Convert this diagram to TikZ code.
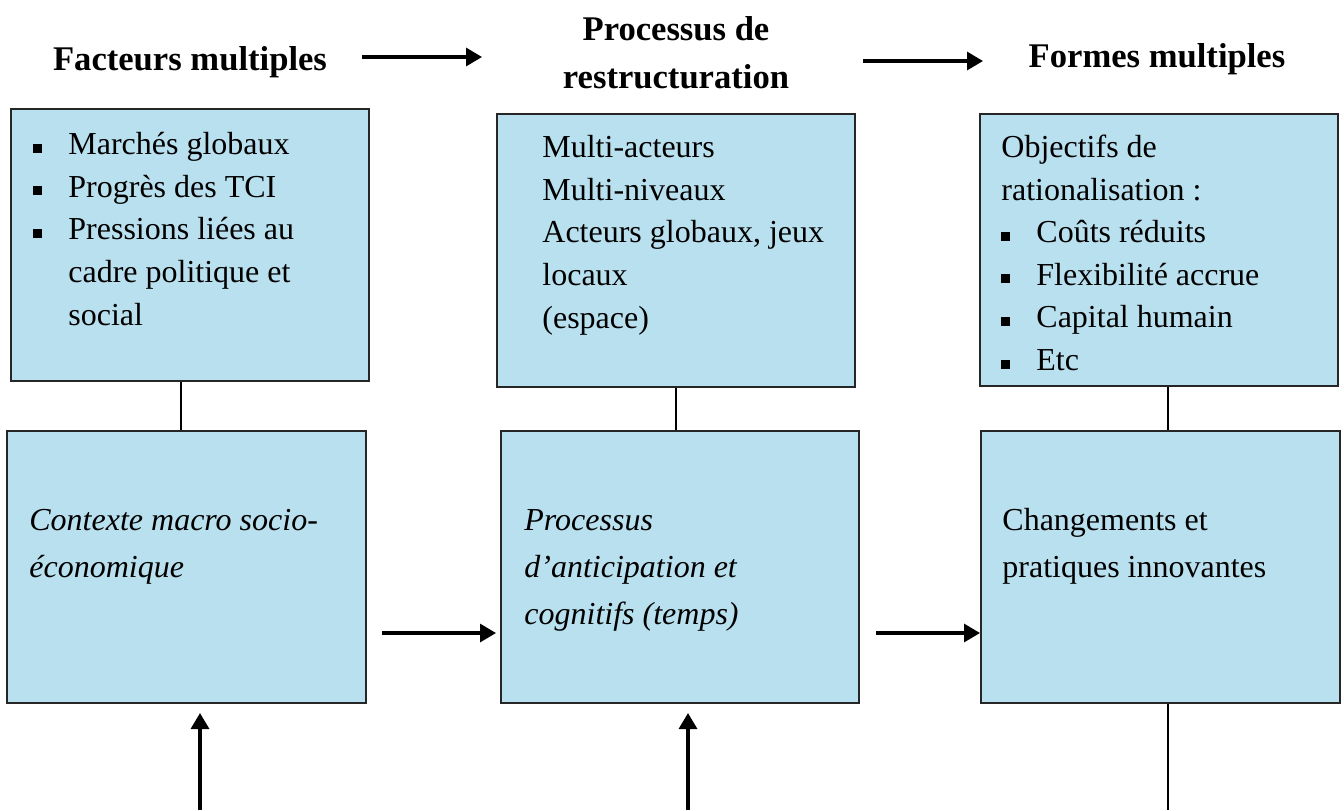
\documentclass[tikz,border=0pt]{standalone}
\usepackage{fontspec}
\setmainfont{Liberation Serif}
\usetikzlibrary{arrows.meta}
\definecolor{boxblue}{RGB}{185,224,238}
\newcommand{\sqb}{\makebox[17.5pt][l]{\rule[1pt]{4.5pt}{4.5pt}}}
\newcommand{\ind}{\hspace*{17.5pt}}
\tikzset{
  box/.style={draw=black!85, line width=1pt, fill=boxblue, inner sep=0pt,
    minimum width=179pt, minimum height=136pt},
  txt/.style={anchor=base west, align=left, inner sep=0pt,
    font=\fontsize{16}{21.3}\selectfont},
  txtb/.style={txt, font=\fontsize{16}{23.5}\selectfont},
  ttl/.style={anchor=base, align=center, inner sep=0pt,
    font=\fontsize{17.3}{24}\selectfont\bfseries},
  arr/.style={line width=1.6pt, -{Triangle[length=8pt,width=9pt]}},
  lnk/.style={line width=0.9pt}
}
\begin{document}
\begin{tikzpicture}[x=0.5pt,y=-0.5pt]
        \useasboundingbox (0,0) rectangle (1344,810);
        % titres (base = derniere ligne)
        \node[ttl] (tFact) at (190,70) {Facteurs multiples};
        \node[ttl] (tProc) at (676,88) {Processus de\\restructuration};
        \node[ttl] (tForm) at (1157,67) {Formes multiples};
        \coordinate (h1s) at (362,57);
        \coordinate (h1e) at (482,57);
        \coordinate (h2s) at (863,61);
        \coordinate (h2e) at (983,61);
        \draw[arr] (h1s) -- (h1e);
        \draw[arr] (h2s) -- (h2e);

        % boites du haut
        \node[box] (facteurs) at (190,245) {};
        \node[box, minimum height=136.5pt] (acteurs) at (676,250.5) {};
        \node[box] (objectifs) at (1159,250) {};
        \node[txt] (tA1) at (33,325) {\sqb Marchés globaux\\\sqb Progrès des TCI\\\sqb Pressions liées au\\\ind cadre politique et\\\ind social};
        \node[txt] (tB1) at (542,328) {Multi-acteurs\\Multi-niveaux\\Acteurs globaux, jeux\\locaux\\(espace)};
        \node[txt] (tC1) at (1001,370.5) {Objectifs de\\rationalisation :\\\sqb Coûts réduits\\\sqb Flexibilité accrue\\\sqb Capital humain\\\sqb Etc};

        % boites du bas
        \node[box, minimum width=179.5pt] (contexte) at (186.5,567) {};
        \node[box] (anticip) at (680,567) {};
        \node[box, minimum width=179.5pt] (changements) at (1160.5,567) {};
        \node[txtb] (tA2) at (29,577) {\itshape Contexte macro socio-\\\itshape économique};
        \node[txtb] (tB2) at (524,624) {\itshape Processus\\\itshape d’anticipation et\\\itshape cognitifs (temps)};
        \node[txtb] (tC2) at (1002,577) {Changements et\\pratiques innovantes};

        % liens verticaux
        \draw[lnk] ([xshift=-4.5pt]facteurs.south) -- ([xshift=-4.5pt]facteurs.south |- contexte.north);
        \draw[lnk] (acteurs.south) -- (acteurs.south |- anticip.north);
        \draw[lnk] ([xshift=4.5pt]objectifs.south) -- ([xshift=4.5pt]objectifs.south |- changements.north);
        \coordinate (cBas) at (1168,810);
        \draw[lnk] (changements.south -| cBas) -- (cBas);

        % fleches
        \draw[arr] ([shift={(7.5pt,-33pt)}]contexte.east) -- ([shift={(-2pt,-33pt)}]anticip.west);
        \draw[arr] ([shift={(8pt,-33pt)}]anticip.east) -- ([yshift=-33pt]changements.west);
        \coordinate (aBas) at (200,810);
        \coordinate (bBas) at (688,810);
        \draw[arr] (aBas) -- ([yshift=-4.5pt]aBas |- contexte.south);
        \draw[arr] (bBas) -- ([yshift=-4.5pt]bBas |- anticip.south);
\end{tikzpicture}
\end{document}
